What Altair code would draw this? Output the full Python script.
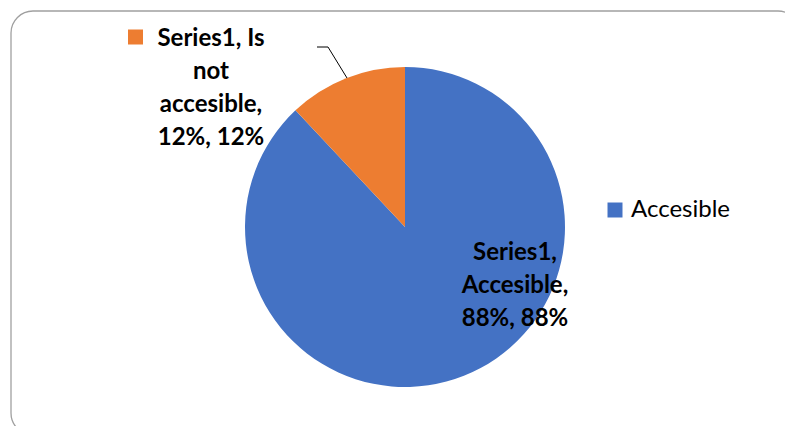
import altair as alt
import pandas as pd

categories = ["Accesible", "Is not accesible"]
values = [88, 12]
order = [1, 2]
labels = ["Series1,\nAccesible,\n88%, 88%", "Series1, Is\nnot\naccesible,\n12%, 12%"]
colors = ["#4472C4", "#ED7D31"]

df = pd.DataFrame({"category": categories, "value": values, "order": order, "label": labels})
base_data = alt.Data(values=df.to_dict(orient="records"))

CX, CY = 394, 216  # pie centre inside the view
theta_scale = alt.Scale(domain=[0, 100])

color = alt.Color("category:N",
                  scale=alt.Scale(domain=categories, range=colors),
                  legend=alt.Legend(values=["Accesible"], title=None, orient="none",
                                    legendX=592, legendY=187, symbolType="square",
                                    symbolSize=225, symbolStrokeWidth=0,
                                    labelFontSize=24, labelFont="Lato", labelColor="#000000",
                                    labelOffset=4, padding=0))

pie = alt.Chart(base_data).mark_arc(outerRadius=160, stroke=None).encode(
    theta=alt.Theta("value:Q", stack=True, scale=theta_scale),
    order=alt.Order("order:Q"),
    color=color,
    x=alt.value(CX), y=alt.value(CY),
)

txt_style = dict(font="Lato", fontWeight="bold", fontSize=24, lineBreak="\n",
                 lineHeight=33, color="#000000", align="center", baseline="middle",
                 radius=125)

def label_layer(cat, dx, dy):
    return alt.Chart(base_data).transform_stack(
        stack="value", groupby=[], as_=["v0", "v1"], sort=[alt.SortField("order")]
    ).transform_calculate(
        mid="(datum.v0 + datum.v1) / 2"
    ).transform_filter(
        alt.datum.category == cat
    ).mark_text(dx=dx, dy=dy, **txt_style).encode(
        theta=alt.Theta("mid:Q", stack=None, scale=theta_scale),
        text="label:N",
        x=alt.value(CX), y=alt.value(CY),
    )

lbl_a = label_layer("Accesible", 64, -90)
lbl_b = label_layer("Is not accesible", -148, -72)

key = alt.Chart(base_data).mark_square(size=225, opacity=1).encode(
    x=alt.value(124.5), y=alt.value(26),
    color=alt.Color("category:N", scale=alt.Scale(domain=categories, range=colors), legend=None),
).transform_filter(alt.datum.category == "Is not accesible")

frame_data = alt.Data(values=[{"f": 1}])
frame = alt.Chart(frame_data).mark_rect(fill=None, stroke="#a0a0a0", strokeWidth=1.3,
                                        cornerRadius=22).encode(
    x=alt.value(0), x2=alt.value(789), y=alt.value(0), y2=alt.value(424))

lead1 = alt.Chart(frame_data).mark_rule(color="#000000", strokeWidth=1).encode(
    x=alt.value(306), x2=alt.value(317), y=alt.value(36), y2=alt.value(36))
lead2 = alt.Chart(frame_data).mark_rule(color="#000000", strokeWidth=1).encode(
    x=alt.value(317), x2=alt.value(336), y=alt.value(36), y2=alt.value(67))

chart = alt.layer(frame, pie, lead1, lead2, lbl_a, lbl_b, key).properties(
    width=774, height=415,
    padding={"left": 3, "top": 3, "right": 0, "bottom": 0},
    autosize=alt.AutoSizeParams(type="none"),
    background="#ffffff",
).configure_view(stroke=None)

chart.save("out.html", embed_options={"renderer": "svg", "actions": False})
